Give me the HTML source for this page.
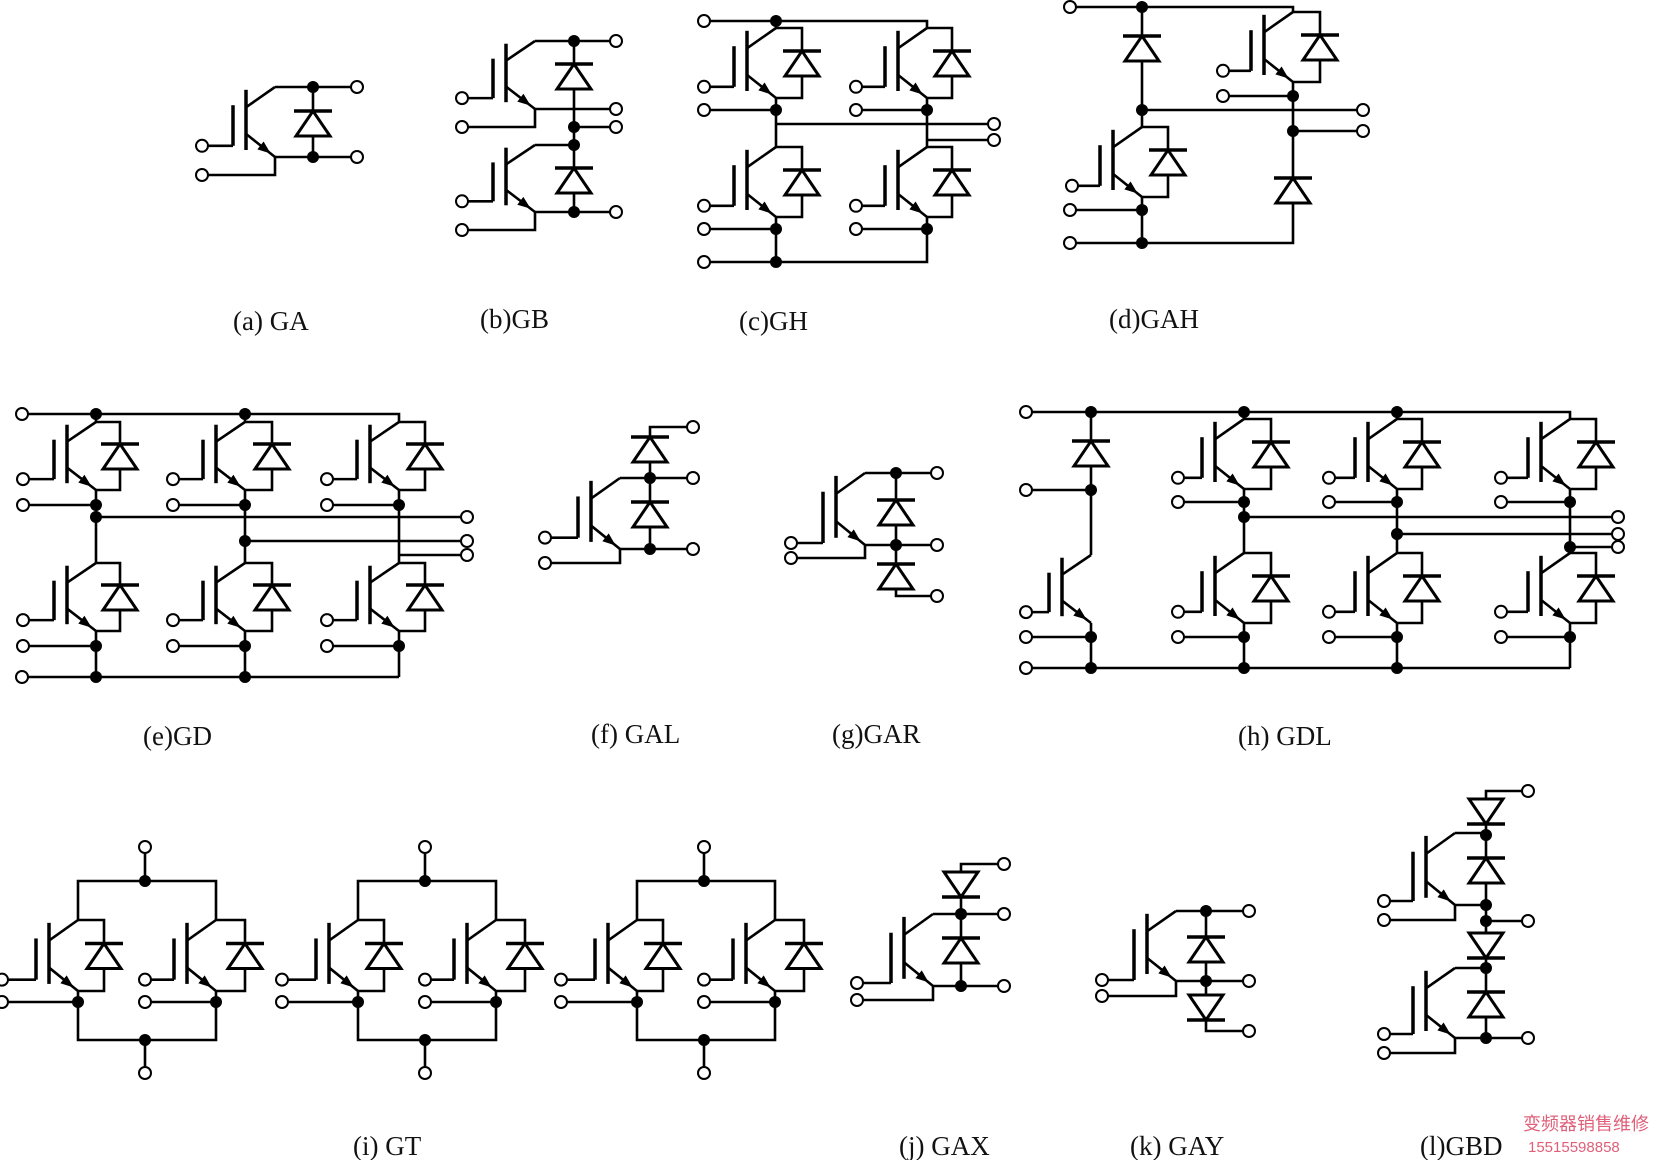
<!DOCTYPE html>
<html><head><meta charset="utf-8"><style>
html,body{margin:0;padding:0;background:#fff;}
svg{display:block;}
.lb{font-family:"Liberation Serif",serif;font-size:27px;fill:#111;}
.wm{font-family:"Liberation Sans","Noto Sans CJK SC",sans-serif;fill:#e0607a;}
</style></head><body>
<svg id="s" xmlns="http://www.w3.org/2000/svg" width="1663" height="1160" viewBox="0 0 1663 1160">
<rect width="1663" height="1160" fill="#fff"/>
<g id="w" fill="none" stroke="#000" stroke-width="2.6" stroke-linejoin="miter"></g>
<g id="d" fill="#fff" stroke="#000" stroke-width="3"></g>
<g id="p" fill="#000"></g>
<g id="c" fill="#fff" stroke="#000" stroke-width="2"></g>
<text class="lb" x="233" y="330">(a) GA</text>
<text class="lb" x="480" y="328">(b)GB</text>
<text class="lb" x="739" y="330">(c)GH</text>
<text class="lb" x="1109" y="328">(d)GAH</text>
<text class="lb" x="143" y="745">(e)GD</text>
<text class="lb" x="591" y="743">(f) GAL</text>
<text class="lb" x="832" y="743">(g)GAR</text>
<text class="lb" x="1238" y="745">(h) GDL</text>
<text class="lb" x="353" y="1155">(i) GT</text>
<text class="lb" x="899" y="1155">(j) GAX</text>
<text class="lb" x="1130" y="1155">(k) GAY</text>
<text class="lb" x="1420" y="1155">(l)GBD</text>
<text class="wm" x="1523" y="1130" font-size="18">变频器销售维修</text>
<text class="wm" x="1528" y="1152" font-size="15">15515598858</text>
</svg>
<script>
var NS="http://www.w3.org/2000/svg";
var gw=document.getElementById('w'),gd=document.getElementById('d'),gp=document.getElementById('p'),gc=document.getElementById('c');
function el(g,t,a){var e=document.createElementNS(NS,t);for(var k in a)e.setAttribute(k,a[k]);g.appendChild(e);return e;}
function L(){var a=[].slice.call(arguments),s=[];for(var i=0;i<a.length;i+=2)s.push(a[i]+','+a[i+1]);el(gw,'polyline',{points:s.join(' ')});}
function dot(x,y){el(gp,'circle',{cx:x,cy:y,r:6});}
function circ(x,y){el(gc,'circle',{cx:x,cy:y,r:6});}
function diode(x,cy,up){
 if(up){el(gd,'polygon',{points:(x-17)+','+(cy+13)+' '+(x+17)+','+(cy+13)+' '+x+','+(cy-12)});
  el(gd,'line',{x1:x-19,y1:cy-12,x2:x+19,y2:cy-12,'stroke-width':3.5});}
 else{el(gd,'polygon',{points:(x-17)+','+(cy-13)+' '+(x+17)+','+(cy-13)+' '+x+','+(cy+12)});
  el(gd,'line',{x1:x-19,y1:cy+12,x2:x+19,y2:cy+12,'stroke-width':3.5});}
}
function Q(x,y,h,gx,gy){
 if(gy===undefined)gy=y+0.84*h;
 el(gw,'line',{x1:x-29,y1:y+0.04*h,x2:x-29,y2:y+0.9*h,'stroke-width':3.5});
 el(gw,'line',{x1:x-42,y1:y+0.26*h,x2:x-42,y2:gy,'stroke-width':3.5});
 L(x-42,gy,gx,gy);circ(gx,gy);
 L(x-29,y+0.29*h,x,y);
 var ax=x-29,ay=y+0.67*h,bx=x,by=y+h;L(ax,ay,bx,by);
 var dx=bx-ax,dy=by-ay,l=Math.sqrt(dx*dx+dy*dy);dx/=l;dy/=l;
 var tx=ax+(bx-ax)*0.85,ty=ay+(by-ay)*0.85,px=-dy,py=dx;
 var b1x=tx-dx*13,b1y=ty-dy*13;
 el(gp,'polygon',{points:tx+','+ty+' '+(b1x+px*5)+','+(b1y+py*5)+' '+(b1x-px*5)+','+(b1y-py*5)});
}
function cell(x,y,h,bx,gx){Q(x,y,h,gx);L(x,y,bx,y,bx,y+h,x,y+h);diode(bx,y+h/2,1);}
function aux(x,ey,ay,cx){L(x,ey,x,ay,cx,ay);circ(cx,ay);}
function hc(x1,y,x2){L(x1,y,x2,y);circ(x2,y);}

// (a)
Q(275,87,70,202);hc(275,87,357);dot(313,87);hc(275,157,357);dot(313,157);L(313,87,313,157);diode(313,123,1);aux(275,157,175,202);
// (b)
Q(535,41,68,462);hc(535,41,616);dot(574,41);hc(535,109,616);aux(535,109,127,462);
dot(574,127);hc(574,127,616);L(574,41,574,212);diode(574,76,1);
Q(535,145,67,462);L(535,145,574,145);dot(574,145);hc(535,212,616);dot(574,212);aux(535,212,230,462);diode(574,180,1);
// (c)
circ(704,21);L(704,21,927,21,927,28);dot(776,21);L(776,21,776,28);
cell(776,28,70,802,704);cell(927,28,70,952,856);
L(776,98,776,147);dot(776,110);hc(776,110,704);hc(776,124,994);
L(927,98,927,147);dot(927,110);hc(927,110,856);hc(927,140,994);
cell(776,147,70,802,704);cell(927,147,70,952,856);
L(776,217,776,262);dot(776,229);hc(776,229,704);
L(704,262,927,262,927,217);circ(704,262);dot(776,262);dot(927,229);hc(927,229,856);
// (d)
circ(1070,7);L(1070,7,1293,7,1293,12);dot(1142,7);
cell(1293,12,70,1320,1223);
L(1293,82,1293,243,1142,243);dot(1293,96);hc(1293,96,1223);
hc(1142,110,1363);dot(1293,131);hc(1293,131,1363);diode(1293,190,1);
L(1142,7,1142,127);diode(1142,48,1);dot(1142,110);
cell(1142,127,70,1168,1072);
L(1142,197,1142,243);dot(1142,210);hc(1142,210,1070);dot(1142,243);hc(1142,243,1070);
// (e)
circ(22,414);L(22,414,399,414,399,422);dot(96,414);dot(245,414);L(96,414,96,422);L(245,414,245,422);
[[96,120,23],[245,272,173],[399,425,327]].forEach(function(c){var x=c[0],bx=c[1],gx=c[2];
 cell(x,422,68,bx,gx);cell(x,563,68,bx,gx);L(x,490,x,563);dot(x,505);hc(x,505,gx);
 L(x,631,x,677);dot(x,646);hc(x,646,gx);});
dot(96,517);hc(96,517,467);dot(245,541);hc(245,541,467);hc(399,555,467);
circ(22,677);L(22,677,399,677);dot(96,677);dot(245,677);
// (f)
Q(620,478,71,545);hc(620,478,693);dot(650,478);
circ(693,427);L(693,427,650,427,650,549);diode(650,449,1);diode(650,514,1);
hc(620,549,693);dot(650,549);aux(620,549,563,545);
// (g)
Q(865,473,72,791,543);hc(865,473,937);dot(896,473);
L(896,473,896,596,937,596);circ(937,596);diode(896,512,1);diode(896,576,1);
hc(865,545,937);dot(896,545);aux(865,545,558,791);
// (h)
circ(1026,412);L(1026,412,1570,412,1570,419);dot(1091,412);dot(1244,412);dot(1397,412);
L(1244,412,1244,419);L(1397,412,1397,419);
L(1091,412,1091,555);diode(1091,453,1);dot(1091,490);hc(1091,490,1026);
Q(1091,555,68,1026);L(1091,623,1091,668);dot(1091,637);hc(1091,637,1026);
[[1244,1271,1178],[1397,1422,1329],[1570,1596,1501]].forEach(function(c){var x=c[0],bx=c[1],gx=c[2];
 cell(x,419,70,bx,gx);cell(x,553,70,bx,gx);L(x,489,x,553);dot(x,502);hc(x,502,gx);
 L(x,623,x,668);dot(x,637);hc(x,637,gx);});
dot(1244,517);hc(1244,517,1618);dot(1397,534);hc(1397,534,1618);dot(1570,547);hc(1570,547,1618);
circ(1026,668);L(1026,668,1570,668);dot(1091,668);dot(1244,668);dot(1397,668);
// (i)
[0,280,559].forEach(function(o){
 circ(145+o,847);L(145+o,847,145+o,881);dot(145+o,881);
 L(78+o,920,78+o,881,216+o,881,216+o,920);
 cell(78+o,920,71,104+o,2+o);cell(216+o,920,71,245+o,145+o);
 L(78+o,991,78+o,1040,216+o,1040,216+o,991);
 dot(78+o,1002);hc(78+o,1002,2+o);dot(216+o,1002);hc(216+o,1002,145+o);
 dot(145+o,1040);L(145+o,1040,145+o,1073);circ(145+o,1073);
});
// (j)
Q(933,914,72,857,983);hc(933,914,1004);dot(961,914);
circ(1004,864);L(1004,864,961,864,961,986);diode(961,885,0);diode(961,950,1);
hc(933,986,1004);dot(961,986);aux(933,986,1000,857);
// (k)
Q(1176,911,70,1102,980);hc(1176,911,1249);dot(1206,911);
L(1206,911,1206,1031,1249,1031);circ(1249,1031);diode(1206,949,1);diode(1206,1008,0);
hc(1176,981,1249);dot(1206,981);aux(1176,981,996,1102);
// (l)
circ(1528,791);L(1528,791,1486,791,1486,1038);diode(1486,812,0);
Q(1455,833,72,1384,901);L(1455,833,1486,833);dot(1486,835);diode(1486,870,1);
L(1455,905,1486,905);dot(1486,905);aux(1455,905,920,1384);
dot(1486,921);hc(1486,921,1528);
diode(1486,946,0);dot(1486,968);Q(1455,968,70,1384,1034);L(1455,968,1486,968);
diode(1486,1004,1);hc(1455,1038,1528);dot(1486,1038);aux(1455,1038,1053,1384);
</script>
</body></html>
